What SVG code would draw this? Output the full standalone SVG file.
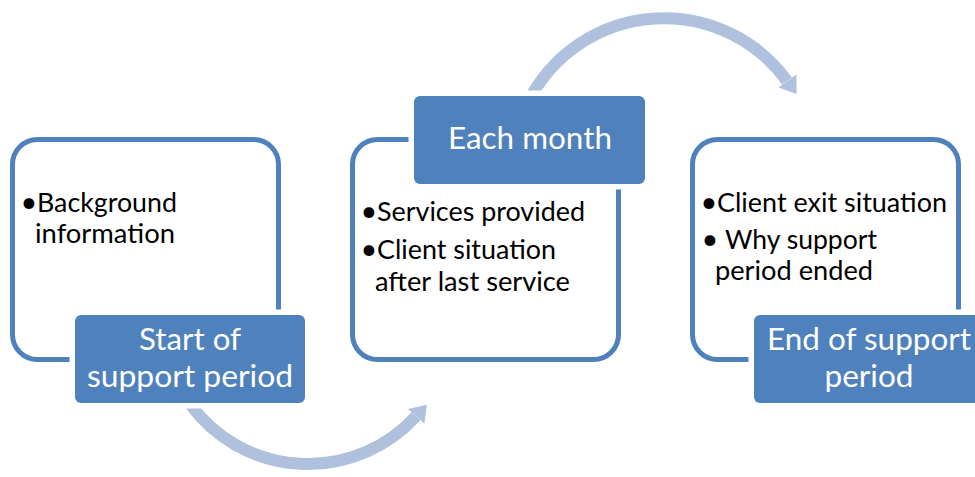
<svg xmlns="http://www.w3.org/2000/svg" width="975" height="477" viewBox="0 0 975 477">
  <style>
    .frame { fill: #FFFFFF; stroke: #4F81BD; stroke-width: 5; }
    .halo { fill: #FFFFFF; }
    .box { fill: #4F81BD; }
    .body { font-family: Lato, "Open Sans", sans-serif; font-size: 26.5px; fill: #000000; }
    .bullet { font-family: Lato, "Open Sans", sans-serif; font-size: 29px; fill: #000000; text-anchor: middle; }
    .label { font-family: Lato, "Open Sans", sans-serif; font-size: 31px; fill: #FFFFFF; text-anchor: middle; }
    .arc { fill: none; stroke: #AFC1DD; stroke-width: 12; }
    .head { fill: #AFC1DD; }
  </style>
  <rect width="975" height="477" fill="#FFFFFF"/>
  <g id="connectors">
    <path class="arc" d="M 531.8,95 A 152 152 0 0 1 787,81"/>
    <polygon class="head" points="796.4,74.5 778.4,87.4 796.6,94"/>
    <path class="arc" d="M 190,404 A 146 146 0 0 0 416,416.3"/>
    <polygon class="head" points="424.4,423.5 408,409 426.9,404.8"/>
  </g>
  <g id="node-start">
    <rect class="frame" x="12.5" y="139.5" width="266" height="220" rx="25"/>
    <text class="bullet" x="29" y="212">•</text>
    <text class="body" x="37" y="212" textLength="140" lengthAdjust="spacingAndGlyphs">Background</text>
    <text class="body" x="35" y="243" textLength="140" lengthAdjust="spacingAndGlyphs">information</text>
    <rect class="halo" x="69.5" y="309.5" width="241" height="99" rx="10"/>
    <rect class="box" x="75" y="315" width="230" height="88" rx="6"/>
    <text class="label" x="190" y="350" textLength="102" lengthAdjust="spacingAndGlyphs">Start of</text>
    <text class="label" x="190" y="387" textLength="206" lengthAdjust="spacingAndGlyphs">support period</text>
  </g>
  <g id="node-month">
    <rect class="frame" x="352.5" y="139.5" width="266" height="220" rx="25"/>
    <rect class="halo" x="408.5" y="90.5" width="242" height="99" rx="10"/>
    <rect class="box" x="414" y="96" width="231" height="88" rx="6"/>
    <text class="label" x="530" y="149" textLength="164" lengthAdjust="spacingAndGlyphs">Each month</text>
    <text class="bullet" x="369" y="221">•</text>
    <text class="body" x="377" y="221" textLength="208" lengthAdjust="spacingAndGlyphs">Services provided</text>
    <text class="bullet" x="369" y="259">•</text>
    <text class="body" x="377" y="259" textLength="179" lengthAdjust="spacingAndGlyphs">Client situation</text>
    <text class="body" x="375" y="291" textLength="195" lengthAdjust="spacingAndGlyphs">after last service</text>
  </g>
  <g id="node-end">
    <rect class="frame" x="692.5" y="139.5" width="266" height="220" rx="25"/>
    <text class="bullet" x="709" y="212">•</text>
    <text class="body" x="717" y="212" textLength="230" lengthAdjust="spacingAndGlyphs">Client exit situation</text>
    <text class="bullet" x="710" y="249">•</text>
    <text class="body" x="725" y="249" textLength="152" lengthAdjust="spacingAndGlyphs">Why support</text>
    <text class="body" x="715" y="280" textLength="158" lengthAdjust="spacingAndGlyphs">period ended</text>
    <rect class="halo" x="748.5" y="309.5" width="241" height="99" rx="10"/>
    <rect class="box" x="754" y="315" width="230" height="88" rx="6"/>
    <text class="label" x="869" y="350" textLength="204" lengthAdjust="spacingAndGlyphs">End of support</text>
    <text class="label" x="869" y="387" textLength="89" lengthAdjust="spacingAndGlyphs">period</text>
  </g>
</svg>
